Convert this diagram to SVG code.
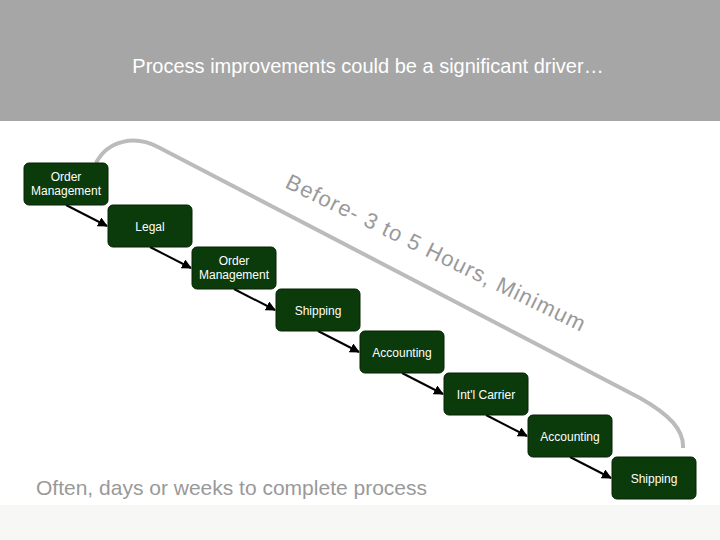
<svg xmlns="http://www.w3.org/2000/svg" width="720" height="540" viewBox="0 0 720 540">
<style>
.n rect{fill:#0b3a0b;stroke:#062206;stroke-width:1}
.n text{fill:#fff;font-family:"Liberation Sans",Arial,sans-serif;font-size:12px;text-anchor:middle}
.c line{stroke:#000;stroke-width:2;marker-end:url(#a)}
</style>
<defs><marker id="a" viewBox="0 0 10 10" refX="9" refY="5" markerWidth="5" markerHeight="5" orient="auto"><path d="M0,0L10,5L0,10z" fill="#000"/></marker></defs>
<rect width="720" height="540" fill="#fff"/>
<rect width="720" height="121" fill="#a6a6a6"/>
<rect y="505" width="720" height="35" fill="#f7f8f5"/>
<text x="368" y="73" fill="#fff" font-family="Liberation Sans,Arial,sans-serif" font-size="20" text-anchor="middle">Process improvements could be a significant driver…</text>
<path d="M96,163 C108,140 135,135 158,147 L640,398 C670,415 684,430 683,448" fill="none" stroke="#bbb" stroke-width="4"/>
<text transform="translate(284,187) rotate(26)" fill="#999" font-family="Liberation Sans,Arial,sans-serif" font-size="22" textLength="330" lengthAdjust="spacing">Before- 3 to 5 Hours, Minimum</text>
<text x="36" y="495" fill="#999" font-family="Liberation Sans,Arial,sans-serif" font-size="21">Often, days or weeks to complete process</text>
<g class="c">
<line x1="66" y1="205" x2="107" y2="226"/>
<line x1="150" y1="247" x2="191" y2="268"/>
<line x1="234" y1="289" x2="275" y2="310"/>
<line x1="318" y1="331" x2="359" y2="352"/>
<line x1="402" y1="373" x2="443" y2="394"/>
<line x1="486" y1="415" x2="527" y2="436"/>
<line x1="570" y1="457" x2="611" y2="478"/>
</g>
<g id="n1" class="n"><rect x="24" y="163" width="84" height="42" rx="5"/><text x="66" y="181">Order</text><text x="66" y="195">Management</text></g>
<g id="n2" class="n"><rect x="108" y="205" width="84" height="42" rx="5"/><text x="150" y="231">Legal</text></g>
<g id="n3" class="n"><rect x="192" y="247" width="84" height="42" rx="5"/><text x="234" y="265">Order</text><text x="234" y="279">Management</text></g>
<g id="n4" class="n"><rect x="276" y="289" width="84" height="42" rx="5"/><text x="318" y="315">Shipping</text></g>
<g id="n5" class="n"><rect x="360" y="331" width="84" height="42" rx="5"/><text x="402" y="357">Accounting</text></g>
<g id="n6" class="n"><rect x="444" y="373" width="84" height="42" rx="5"/><text x="486" y="399">Int'l Carrier</text></g>
<g id="n7" class="n"><rect x="528" y="415" width="84" height="42" rx="5"/><text x="570" y="441">Accounting</text></g>
<g id="n8" class="n"><rect x="612" y="457" width="84" height="42" rx="5"/><text x="654" y="483">Shipping</text></g>
</svg>
